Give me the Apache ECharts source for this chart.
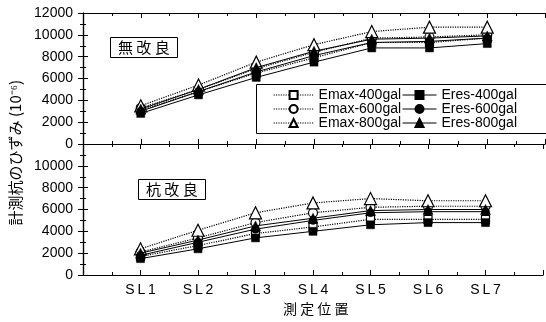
<!DOCTYPE html>
<html><head><meta charset="utf-8">
<script src="https://cdn.jsdelivr.net/npm/echarts@6/dist/echarts.min.js"></script>
<style>html,body{margin:0;padding:0;background:#fff}#c{width:546px;height:322px}</style>
</head><body><div id="c"></div>
<script>
const categories = ['SL1','SL2','SL3','SL4','SL5','SL6','SL7'];
const yTicks = [0,2000,4000,6000,8000,10000,12000];
// 無改良 (top panel)
const topEmax400 = [3100,4800,6500,7900,9300,9300,9700];
const topEmax600 = [3300,5000,6900,8400,9700,9800,10000];
const topEmax800 = [3500,5400,7500,9100,10300,10700,10700];
const topEres400 = [2800,4500,6100,7500,8800,8800,9200];
const topEres600 = [3000,4800,6600,8100,9300,9400,9700];
const topEres800 = [3200,5000,7000,8500,9600,9700,9900];
// 杭改良 (bottom panel)
const botEmax400 = [1700,2700,3800,4400,5100,5100,5100];
const botEmax600 = [2100,3400,4800,5700,6200,6300,6300];
const botEmax800 = [2400,4100,5700,6600,7000,6800,6800];
const botEres400 = [1500,2400,3400,4000,4600,4800,4800];
const botEres600 = [1800,3000,4200,5000,5700,5800,5800];
const botEres800 = [2000,3200,4500,5200,5900,6000,6000];

const FONT = 'Liberation Sans';
const CJK = 'Noto Sans CJK JP';
const pts = arr => arr.map((v,i)=>[i+1, v]);

const styles = {
  'Emax-400gal': {symbol:'rect', size:8, hollow:true},
  'Emax-600gal': {symbol:'circle', size:9, hollow:true},
  'Emax-800gal': {symbol:'triangle', size:12, hollow:true},
  'Eres-400gal': {symbol:'rect', size:8, hollow:false},
  'Eres-600gal': {symbol:'circle', size:8, hollow:false},
  'Eres-800gal': {symbol:'triangle', size:10, hollow:false}
};
function mk(name, arr, gi){
  const s = styles[name];
  return {
    name, type:'line', xAxisIndex: gi*2, yAxisIndex: gi*2,
    data: pts(arr), symbol: s.symbol, symbolSize: s.size, showAllSymbol:true,
    lineStyle:{color:'#000', width: s.hollow?1.2:1, type: s.hollow?'dotted':'solid'},
    itemStyle:{color: s.hollow?'#fff':'#000', borderColor:'#000', borderWidth: s.hollow?1.2:0.5},
    z: s.hollow?3:4, animation:false
  };
}
function xAx(gi, pos, labels){
  return {type:'value', gridIndex:gi, position:pos, min:0, max:8, interval:1,
    axisLine:{show:true, onZero:false, lineStyle:{color:'#000', width:1.2}},
    axisTick:{show:true, inside:true, length:5, lineStyle:{color:'#000'}},
    minorTick:{show:true, splitNumber:2, length:3, lineStyle:{color:'#000'}},
    splitLine:{show:false},
    axisLabel:{show:labels, margin:8, color:'#000', fontFamily:FONT, fontSize:14,
      formatter: v => (v>=1 && v<=7) ? categories[v-1].split('').join('\u2009') : ''}
  };
}
function yAx(gi, pos, labels, hideTop){
  return {type:'value', gridIndex:gi, position:pos, min:yTicks[0], max:yTicks[yTicks.length-1], interval:2000,
    axisLine:{show:true, lineStyle:{color:'#000', width:1.2}},
    axisTick:{show:true, inside:true, length:5, lineStyle:{color:'#000'}},
    minorTick:{show:true, splitNumber:2, length:3, lineStyle:{color:'#000'}},
    splitLine:{show:false},
    axisLabel:{show:labels, margin:10, color:'#000', fontFamily:FONT, fontSize:14,
      formatter: v => (hideTop && v===12000) ? '' : String(v)}
  };
}
const legText = {fontFamily:FONT, fontSize:14, lineHeight:14, color:'#000'};
const chart = echarts.init(document.getElementById('c'), null, {renderer:'canvas'});
chart.setOption({
  animation:false,
  backgroundColor:'#fff',
  grid:[{left:83, top:13, width:462, height:131}, {left:83, top:144, width:462, height:131}],
  xAxis:[xAx(0,'bottom',false), xAx(0,'top',false), xAx(1,'bottom',true), xAx(1,'top',false)],
  yAxis:[yAx(0,'left',true,false), yAx(0,'right',false,false), yAx(1,'left',true,true), yAx(1,'right',false,false)],
  title:[
    {text:'無 改 良', left:110, top:37, padding:[3,8,3,8], borderColor:'#000', borderWidth:1,
     textStyle:{fontFamily:CJK, fontSize:15, fontWeight:'normal', color:'#000'}},
    {text:'杭 改 良', left:138, top:179, padding:[3,8,3,8], borderColor:'#000', borderWidth:1,
     textStyle:{fontFamily:CJK, fontSize:15, fontWeight:'normal', color:'#000'}}
  ],
  legend:[
    {data:['Emax-400gal','Emax-600gal','Emax-800gal'], orient:'vertical', left:273, top:88,
     itemWidth:40, itemHeight:10, itemGap:0, z:10, selectedMode:false, padding:0,
     lineStyle:{width:1.2, type:'dotted', color:'#000'}, textStyle:legText},
    {data:['Eres-400gal','Eres-600gal','Eres-800gal'], orient:'vertical', left:402, top:88,
     itemWidth:34, itemHeight:10, itemGap:0, z:10, selectedMode:false, padding:0,
     lineStyle:{width:1, type:'solid', color:'#000'}, textStyle:legText}
  ],
  graphic:[
    {type:'rect', left:256, top:84, shape:{width:292, height:49}, z:8,
     style:{fill:'#fff', stroke:'#000', lineWidth:1}},
    {type:'text', left:8, top:80, rotation:Math.PI/2, z:10,
     style:{text:'計測杭のひずみ (10⁻⁶)', font:'15px "Noto Sans CJK JP"', fill:'#000'}},
    {type:'text', left:283, top:302, z:10,
     style:{text:'測 定 位 置', font:'14px "Noto Sans CJK JP"', fill:'#000'}}
  ],
  series:[
    mk('Emax-400gal', topEmax400, 0), mk('Emax-600gal', topEmax600, 0), mk('Emax-800gal', topEmax800, 0),
    mk('Eres-400gal', topEres400, 0), mk('Eres-600gal', topEres600, 0), mk('Eres-800gal', topEres800, 0),
    mk('Emax-400gal', botEmax400, 1), mk('Emax-600gal', botEmax600, 1), mk('Emax-800gal', botEmax800, 1),
    mk('Eres-400gal', botEres400, 1), mk('Eres-600gal', botEres600, 1), mk('Eres-800gal', botEres800, 1)
  ]
});
</script></body></html>
